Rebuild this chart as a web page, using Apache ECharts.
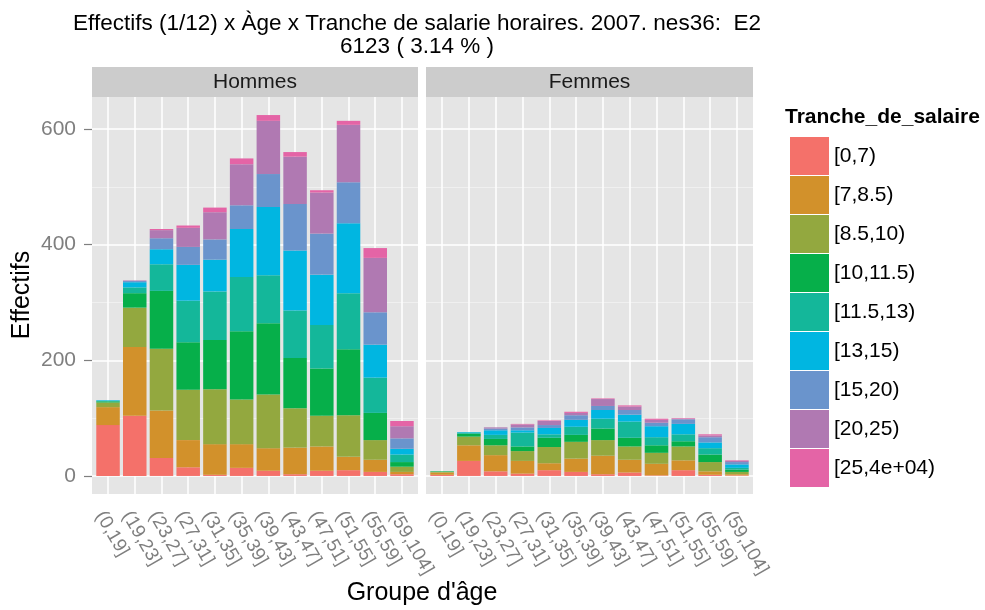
<!DOCTYPE html>
<html>
<head>
<meta charset="utf-8">
<script src="https://cdn.jsdelivr.net/npm/echarts@6/dist/echarts.min.js"></script>
<style>
  html, body { margin: 0; padding: 0; background: #fff; }
  #chart { width: 985px; height: 610px; }
</style>
</head>
<body>
<div id="chart"></div>
<script>
// groupes d'âge (axe x)
const ages = ['(0,19]', '(19,23]', '(23,27]', '(27,31]', '(31,35]', '(35,39]',
  '(39,43]', '(43,47]', '(47,51]', '(51,55]', '(55,59]', '(59,104]']
const tranches = ['[0,7)', '[7,8.5)', '[8.5,10)', '[10,11.5)', '[11.5,13)',
  '[13,15)', '[15,20)', '[20,25)', '[25,4e+04)']
const colors = ['#F4716A', '#D2912B', '#93A83F', '#06AF4A', '#14B79A',
  '#00B6E1', '#6A94CC', '#B079B2', '#E464A6']

// effectifs par tranche, une ligne par tranche
const hommes = [
  [88, 104, 31, 15, 2, 14, 9, 3, 9, 10, 7, 3],
  [31, 119, 82, 47, 53, 41, 39, 46, 42, 23, 21, 4],
  [8, 68, 107, 87, 95, 77, 93, 68, 53, 72, 34, 9],
  [2, 25, 100, 82, 85, 118, 123, 87, 82, 114, 47, 8],
  [1, 10, 46, 72, 84, 94, 83, 82, 75, 97, 61, 13],
  [1, 9, 26, 62, 55, 83, 118, 104, 87, 121, 57, 10],
  [0, 2, 19, 31, 35, 41, 57, 80, 71, 71, 56, 18],
  [0, 1, 14, 33, 47, 71, 92, 82, 71, 99, 94, 21],
  [0, 0, 2, 4, 8, 10, 10, 8, 4, 7, 17, 9]
]
const femmes = [
  [2, 26, 8, 4, 10, 7, 3, 6, 1, 10, 2, 1],
  [4, 27, 28, 22, 12, 23, 32, 22, 20, 17, 6, 2],
  [1, 15, 17, 17, 28, 29, 27, 23, 19, 24, 16, 4],
  [1, 5, 11, 8, 16, 12, 20, 15, 13, 9, 13, 4],
  [0, 2, 7, 24, 6, 14, 17, 28, 14, 12, 11, 3],
  [0, 1, 8, 4, 11, 12, 15, 12, 19, 18, 10, 6],
  [0, 0, 3, 5, 5, 8, 7, 8, 6, 8, 9, 4],
  [0, 0, 2, 5, 7, 4, 12, 6, 5, 1, 3, 2],
  [0, 0, 0, 1, 1, 2, 1, 2, 2, 1, 2, 1]
]
const yTicks = [0, 200, 400, 600]
const yMinor = [100, 300, 500]
const yMin = -31.2
const yMax = 655.2

const font = 'Liberation Sans, Arial, Helvetica, sans-serif'
const panels = [
  { left: 92, width: 326, label: 'Hommes' },
  { left: 426, width: 327, label: 'Femmes' }
]
const panelTop = 97
const panelHeight = 397

// ggplot expands a discrete axis by 0.6 on each side
const inner = panels.map(p => {
  const unit = p.width / 12.2
  return { left: p.left + 0.1 * unit, width: 12 * unit }
})

const chart = echarts.init(document.getElementById('chart'))

const grids = panels.map(p => ({ left: p.left, top: panelTop, width: p.width, height: panelHeight }))
  .concat(inner.map(p => ({ left: p.left, top: panelTop, width: p.width, height: panelHeight })))

const xAxes = [0, 1].map(i => ({ type: 'value', gridIndex: i, show: false, min: 0, max: 1 }))
  .concat([2, 3].map(i => ({
    type: 'category',
    gridIndex: i,
    data: ages,
    axisLine: { show: false },
    axisTick: { alignWithLabel: true, length: 8, lineStyle: { color: '#7F7F7F', width: 1.2 } },
    splitLine: { show: true, alignWithLabel: true, lineStyle: { color: '#FFFFFF', width: 1.5 } },
    axisLabel: {
      interval: 0,
      rotate: -60,
      margin: 14,
      verticalAlign: 'top',
      color: '#7F7F7F',
      fontSize: 19,
      fontFamily: font
    }
  })))

function majorAxis(gridIndex, labels) {
  return {
    type: 'value', gridIndex: gridIndex, min: yMin, max: yMax,
    axisLine: { show: false },
    axisTick: { show: labels, customValues: yTicks, length: 8, lineStyle: { color: '#7F7F7F', width: 1.2 } },
    axisLabel: { show: labels, customValues: yTicks, margin: 16, color: '#7F7F7F', fontSize: 21, fontFamily: font },
    splitLine: { show: true, lineStyle: { color: '#FFFFFF', width: 1.5 } }
  }
}
function minorAxis(gridIndex) {
  return {
    type: 'value', gridIndex: gridIndex, min: yMin, max: yMax, position: 'left',
    axisLine: { show: false },
    axisTick: { show: false, customValues: yMinor },
    axisLabel: { show: false, customValues: yMinor },
    splitLine: { show: true, lineStyle: { color: '#F2F2F2', width: 0.8 } }
  }
}
const yAxes = [majorAxis(0, true), minorAxis(0), majorAxis(1, false), minorAxis(1),
  { type: 'value', gridIndex: 2, min: yMin, max: yMax, show: false, splitLine: { show: false } },
  { type: 'value', gridIndex: 3, min: yMin, max: yMax, show: false, splitLine: { show: false } }]

const series = []
;[hommes, femmes].forEach((facet, f) => {
  tranches.forEach((t, i) => {
    series.push({
      name: t,
      type: 'bar',
      stack: 'facet' + f,
      xAxisIndex: 2 + f,
      yAxisIndex: 4 + f,
      barCategoryGap: '12%',
      itemStyle: { color: colors[i] },
      data: facet[i]
    })
  })
})

const graphics = []
panels.forEach(p => {
  graphics.push({ type: 'rect', z: -10, shape: { x: p.left, y: panelTop, width: p.width, height: panelHeight }, style: { fill: '#E5E5E5' } })
  graphics.push({ type: 'rect', z: -10, shape: { x: p.left, y: 67, width: p.width, height: 30 }, style: { fill: '#CCCCCC' } })
  graphics.push({
    type: 'text', x: p.left + p.width / 2, y: 82,
    style: { text: p.label, fill: '#1A1A1A', font: '21px ' + font, textAlign: 'center', textVerticalAlign: 'middle' }
  })
})
graphics.push({
  type: 'text', x: 417, y: 24,
  style: { text: 'Effectifs (1/12) x Àge x Tranche de salarie horaires. 2007. nes36:  E2', fill: '#000', font: '22.5px ' + font, textAlign: 'center', textVerticalAlign: 'middle' }
})
graphics.push({
  type: 'text', x: 417, y: 47,
  style: { text: '6123 ( 3.14 % )', fill: '#000', font: '22.5px ' + font, textAlign: 'center', textVerticalAlign: 'middle' }
})
graphics.push({
  type: 'text', x: 422, y: 593,
  style: { text: "Groupe d'âge", fill: '#000', font: '25px ' + font, textAlign: 'center', textVerticalAlign: 'middle' }
})
graphics.push({
  type: 'text', x: 22, y: 295, rotation: Math.PI / 2,
  style: { text: 'Effectifs', fill: '#000', font: '25px ' + font, textAlign: 'center', textVerticalAlign: 'middle' }
})
graphics.push({
  type: 'text', x: 785, y: 117,
  style: { text: 'Tranche_de_salaire', fill: '#000', font: 'bold 21px ' + font, textAlign: 'left', textVerticalAlign: 'middle' }
})

const option = {
  animation: false,
  backgroundColor: '#FFFFFF',
  grid: grids,
  xAxis: xAxes,
  yAxis: yAxes,
  legend: {
    data: tranches,
    orient: 'vertical',
    left: 785,
    top: 132,
    itemWidth: 39,
    itemHeight: 38,
    itemGap: 1,
    icon: 'rect',
    selectedMode: false,
    textStyle: { color: '#000', fontSize: 21, fontFamily: font }
  },
  graphic: graphics,
  series: series
}
chart.setOption(option)

window.addEventListener('resize', () => {
  chart.resize()
})
</script>
</body>
</html>
